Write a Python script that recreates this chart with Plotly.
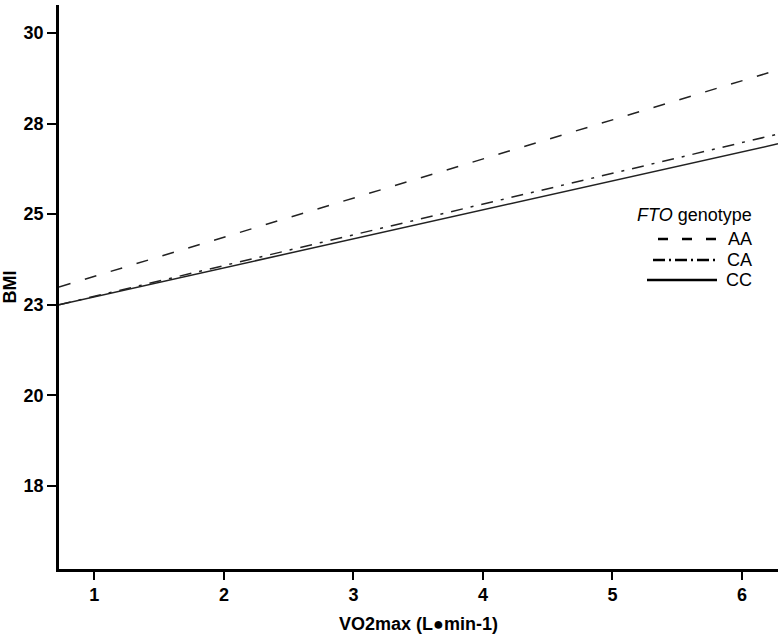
import plotly.graph_objects as go

# Data
x_ends = [0.727, 6.278]
genotypes = ["AA", "CA", "CC"]
bmi_aa = [22.99, 28.98]
bmi_ca = [22.50, 27.21]
bmi_cc = [22.50, 26.94]

y_tickvals = [17.5, 20, 22.5, 25, 27.5, 30]
y_ticktext = ["18", "20", "23", "25", "28", "30"]
x_tickvals = [1, 2, 3, 4, 5, 6]

FONT = "Arial, Liberation Sans, sans-serif"
LINE_COLOR = "#222222"

series = [
    ("AA", bmi_aa, "12px,15px"),
    ("CA", bmi_ca, "12px,8px,3px,8px"),
    ("CC", bmi_cc, "solid"),
]

fig = go.Figure()
for name, ys, dash in series:
    fig.add_trace(go.Scatter(
        x=x_ends, y=ys, mode="lines", name=name,
        line=dict(color=LINE_COLOR, width=1.5, dash=dash),
        showlegend=False, hoverinfo="skip",
    ))

# Custom legend (paper coordinates)
def px_x(px):
    return (px - 59) / 719.0

def px_y(py):
    return (569 - py) / 564.0

fig.add_annotation(x=px_x(754), y=px_y(215), xref="paper", yref="paper",
                   text="<i>FTO</i> genotype", showarrow=False,
                   xanchor="right", yanchor="middle",
                   font=dict(family=FONT, size=18, color="black"))

legend_rows = [
    ("AA", 239, 658, "10px,14px"),
    ("CA", 260, 653, "12px,4px,2px,4px"),
    ("CC", 280, 647, "solid"),
]
for label, py, x0, dash in legend_rows:
    fig.add_shape(type="line", xref="paper", yref="paper",
                  x0=px_x(x0), x1=px_x(717), y0=px_y(py), y1=px_y(py),
                  line=dict(color="black", width=2.5, dash=dash))
    fig.add_annotation(x=px_x(754), y=px_y(py), xref="paper", yref="paper",
                       text=label, showarrow=False, xanchor="right", yanchor="middle",
                       font=dict(family=FONT, size=18, color="black"))

fig.update_layout(
    width=783, height=640,
    margin=dict(l=59, r=5, t=5, b=71),
    plot_bgcolor="white", paper_bgcolor="white",
    font=dict(family=FONT, color="black"),
)
fig.update_xaxes(
    range=[0.727, 6.278], tickvals=x_tickvals, automargin=False,
    showline=True, linecolor="black", linewidth=2.5,
    ticks="outside", ticklen=8, tickwidth=1.5, tickcolor="black",
    showgrid=False, zeroline=False,
    tickfont=dict(family=FONT, size=18, weight="bold"),
    title=dict(text="VO2max (L●min-1)", standoff=14,
               font=dict(family=FONT, size=18, weight="bold")),
)
fig.update_yaxes(
    range=[15.21, 30.77], tickvals=y_tickvals, ticktext=y_ticktext, automargin=False,
    showline=True, linecolor="black", linewidth=2.5,
    ticks="outside", ticklen=9, tickwidth=1.5, tickcolor="black",
    showgrid=False, zeroline=False,
    tickfont=dict(family=FONT, size=18, weight="bold"),
    title=dict(text="BMI", standoff=6,
               font=dict(family=FONT, size=18, weight="bold")),
)

fig.write_html(
    "out.html",
    config={"displayModeBar": False},
    post_script="document.body.style.margin='0px';document.body.style.overflow='hidden';",
)
